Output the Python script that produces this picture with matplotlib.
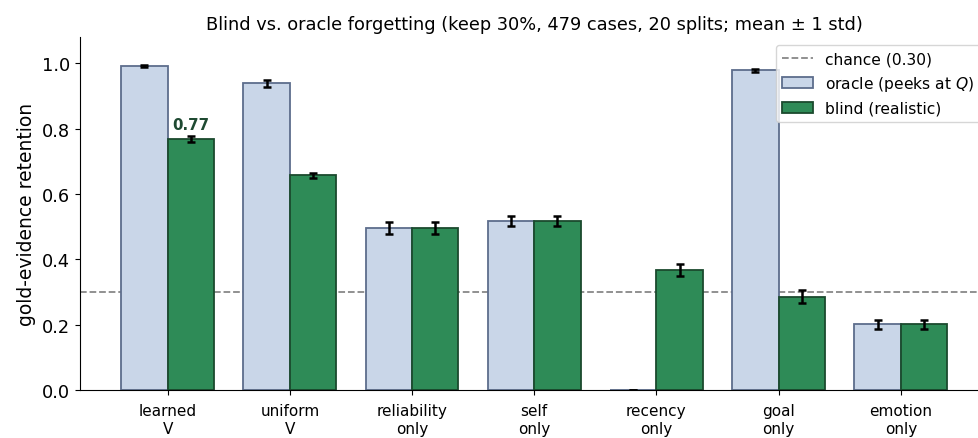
import numpy as np
import matplotlib
matplotlib.use("Agg")
import matplotlib.pyplot as plt

labels = ["learned\nV", "uniform\nV", "reliability\nonly", "self\nonly",
          "recency\nonly", "goal\nonly", "emotion\nonly"]
oracle = [0.992, 0.939, 0.497, 0.517, 0.0, 0.979, 0.201]
oracle_err = [0.004, 0.010, 0.018, 0.015, 0.0, 0.005, 0.015]
blind = [0.769, 0.657, 0.497, 0.517, 0.367, 0.286, 0.201]
blind_err = [0.010, 0.008, 0.018, 0.015, 0.019, 0.020, 0.015]
chance = 0.30

x = np.arange(len(labels))
w = 0.38

fig = plt.figure(figsize=(9.79, 4.39), dpi=100)
ax = fig.add_axes([0.0817, 0.109, 0.928, 0.804])

ax.axhline(chance, color="#888888", ls="--", lw=1.3, label="chance (0.30)", zorder=1)
ax.bar(x - w / 2, oracle, w, yerr=oracle_err, color="#c9d6e8", edgecolor="#5d6d8c",
       lw=1.3, capsize=3, error_kw=dict(lw=1.8, capthick=1.8), label="oracle (peeks at $Q$)", zorder=2)
ax.bar(x + w / 2, blind, w, yerr=blind_err, color="#2e8b57", edgecolor="#1b4a2e",
       lw=1.3, capsize=3, error_kw=dict(lw=1.8, capthick=1.8), label="blind (realistic)", zorder=2)

ax.text(x[0] + w / 2, blind[0] + blind_err[0] + 0.012, f"{blind[0]:.2f}", ha="center", va="bottom",
        fontsize=10.8, fontweight="bold", color="#1f4a32")

ax.set_xticks(x)
ax.set_xticklabels(labels, fontsize=11)
ax.tick_params(axis="x", pad=6)
ax.tick_params(axis="y", labelsize=12.8)
ax.set_ylim(0, 1.08)
ax.set_yticks([0.0, 0.2, 0.4, 0.6, 0.8, 1.0])
ax.set_ylabel("gold-evidence retention", fontsize=13.5)
ax.set_title("Blind vs. oracle forgetting (keep 30%, 479 cases, 20 splits; mean ± 1 std)",
             fontsize=12.8)
ax.spines["top"].set_visible(False)
ax.spines["right"].set_visible(False)
ax.legend(loc="upper right", fontsize=11.2)

fig.savefig("out.png", dpi=100)
